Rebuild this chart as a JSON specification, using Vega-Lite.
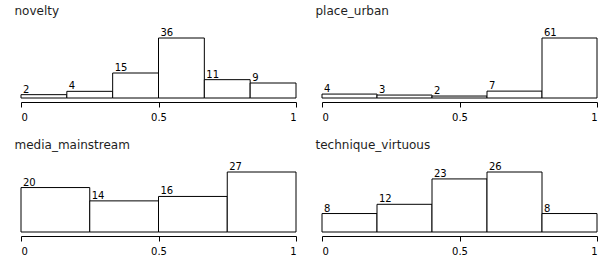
{
  "$schema": "https://vega.github.io/schema/vega-lite/v6.json",
  "background": "white",
  "padding": {"left": 14, "top": 5, "right": 5, "bottom": 5},
  "bounds": "flush",
  "columns": 2,
  "spacing": {"row": 74, "column": 26},
  "config": {
    "view": {"stroke": null},
    "font": "DejaVu Sans",
    "title": {"anchor": "start", "fontSize": 12, "fontWeight": "normal", "color": "#1e1e1e", "dx": -6, "offset": 10, "font": "DejaVu Sans"},
    "axisX": {"labelFlush": true, "grid": false, "title": null, "offset": 4, "domainColor": "black", "tickColor": "black", "tickSize": 5, "labelColor": "black", "labelFontSize": 10, "labelPadding": 5, "labelFont": "DejaVu Sans"}
  },
  "datasets": {
    "novelty": [
      {"x0": 0, "x1": 0.1667, "count": 2},
      {"x0": 0.1667, "x1": 0.3333, "count": 4},
      {"x0": 0.3333, "x1": 0.5, "count": 15},
      {"x0": 0.5, "x1": 0.6667, "count": 36},
      {"x0": 0.6667, "x1": 0.8333, "count": 11},
      {"x0": 0.8333, "x1": 1, "count": 9}
    ],
    "place_urban": [
      {"x0": 0, "x1": 0.2, "count": 4},
      {"x0": 0.2, "x1": 0.4, "count": 3},
      {"x0": 0.4, "x1": 0.6, "count": 2},
      {"x0": 0.6, "x1": 0.8, "count": 7},
      {"x0": 0.8, "x1": 1, "count": 61}
    ],
    "media_mainstream": [
      {"x0": 0, "x1": 0.25, "count": 20},
      {"x0": 0.25, "x1": 0.5, "count": 14},
      {"x0": 0.5, "x1": 0.75, "count": 16},
      {"x0": 0.75, "x1": 1, "count": 27}
    ],
    "technique_virtuous": [
      {"x0": 0, "x1": 0.2, "count": 8},
      {"x0": 0.2, "x1": 0.4, "count": 12},
      {"x0": 0.4, "x1": 0.6, "count": 23},
      {"x0": 0.6, "x1": 0.8, "count": 26},
      {"x0": 0.8, "x1": 1, "count": 8}
    ]
  },
  "concat": [
    {
      "title": "novelty",
      "width": 275, "height": 60,
      "data": {"name": "novelty"},
      "encoding": {
        "x": {"field": "x0", "type": "quantitative", "scale": {"domain": [0, 1]}, "axis": {"values": [0, 0.5, 1], "format": "~g"}},
        "y": {"field": "count", "type": "quantitative", "scale": {"nice": false, "zero": true}, "axis": null}
      },
      "layer": [
        {"mark": {"type": "rect", "fill": "white", "stroke": "black", "strokeWidth": 1}, "encoding": {"x2": {"field": "x1"}, "y2": {"datum": 0}}},
        {"mark": {"type": "text", "align": "left", "baseline": "alphabetic", "dx": 2, "dy": -2, "fontSize": 10, "color": "black"}, "encoding": {"text": {"field": "count", "type": "quantitative"}}}
      ]
    },
    {
      "title": "place_urban",
      "width": 275, "height": 60,
      "data": {"name": "place_urban"},
      "encoding": {
        "x": {"field": "x0", "type": "quantitative", "scale": {"domain": [0, 1]}, "axis": {"values": [0, 0.5, 1], "format": "~g"}},
        "y": {"field": "count", "type": "quantitative", "scale": {"nice": false, "zero": true}, "axis": null}
      },
      "layer": [
        {"mark": {"type": "rect", "fill": "white", "stroke": "black", "strokeWidth": 1}, "encoding": {"x2": {"field": "x1"}, "y2": {"datum": 0}}},
        {"mark": {"type": "text", "align": "left", "baseline": "alphabetic", "dx": 2, "dy": -2, "fontSize": 10, "color": "black"}, "encoding": {"text": {"field": "count", "type": "quantitative"}}}
      ]
    },
    {
      "title": "media_mainstream",
      "width": 275, "height": 60,
      "data": {"name": "media_mainstream"},
      "encoding": {
        "x": {"field": "x0", "type": "quantitative", "scale": {"domain": [0, 1]}, "axis": {"values": [0, 0.5, 1], "format": "~g"}},
        "y": {"field": "count", "type": "quantitative", "scale": {"nice": false, "zero": true}, "axis": null}
      },
      "layer": [
        {"mark": {"type": "rect", "fill": "white", "stroke": "black", "strokeWidth": 1}, "encoding": {"x2": {"field": "x1"}, "y2": {"datum": 0}}},
        {"mark": {"type": "text", "align": "left", "baseline": "alphabetic", "dx": 2, "dy": -2, "fontSize": 10, "color": "black"}, "encoding": {"text": {"field": "count", "type": "quantitative"}}}
      ]
    },
    {
      "title": "technique_virtuous",
      "width": 275, "height": 60,
      "data": {"name": "technique_virtuous"},
      "encoding": {
        "x": {"field": "x0", "type": "quantitative", "scale": {"domain": [0, 1]}, "axis": {"values": [0, 0.5, 1], "format": "~g"}},
        "y": {"field": "count", "type": "quantitative", "scale": {"nice": false, "zero": true}, "axis": null}
      },
      "layer": [
        {"mark": {"type": "rect", "fill": "white", "stroke": "black", "strokeWidth": 1}, "encoding": {"x2": {"field": "x1"}, "y2": {"datum": 0}}},
        {"mark": {"type": "text", "align": "left", "baseline": "alphabetic", "dx": 2, "dy": -2, "fontSize": 10, "color": "black"}, "encoding": {"text": {"field": "count", "type": "quantitative"}}}
      ]
    }
  ]
}
